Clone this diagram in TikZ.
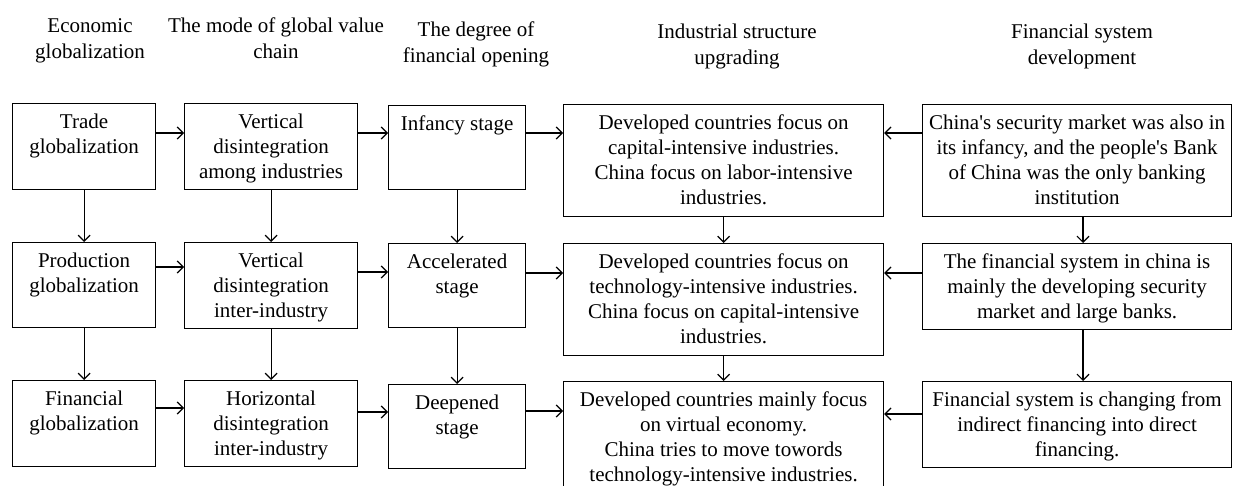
\documentclass[tikz,border=0pt]{standalone}
\usepackage{fontspec}
\setmainfont{Liberation Serif}[Ligatures=TeXOff]
\usetikzlibrary{arrows.meta}
\newcommand\bxt[3]{\parbox[c][#2][t]{#1}{\centering\rule{0pt}{25pt}#3}}
\newcommand\hdt[2]{\parbox[t]{#1}{\centering\rule{0pt}{24pt}#2}}
\tikzset{
  box/.style={draw, line width=1.2pt, inner sep=0pt, anchor=north west, font=\fontsize{21}{25}\selectfont},
  hdr/.style={inner sep=0pt, anchor=north, font=\fontsize{21}{26}\selectfont},
  arr/.style={line width=1.2pt, -{Straight Barb[length=6pt,width=12pt,line width=1.2pt]}}
}
\begin{document}
\begin{tikzpicture}[x=1pt,y=-1pt]
\useasboundingbox (0,0) rectangle (1233,486);
\fill[white] (0,0) rectangle (1233,486);
% headers
\node[hdr] (H1) at (90,8) {\hdt{200pt}{Economic\\globalization}};
\node[hdr] (H2) at (276,8) {\hdt{260pt}{The mode of global value\\chain}};
\node[hdr] (H3) at (476,12) {\hdt{200pt}{The degree of\\financial opening}};
\node[hdr] (H4) at (737,14) {\hdt{260pt}{Industrial structure\\upgrading}};
\node[hdr] (H5) at (1082,14) {\hdt{260pt}{Financial system\\development}};
% column A
\node[box] (A1) at (12,103) {\bxt{143pt}{86pt}{Trade\\globalization}};
\node[box] (A2) at (12,242) {\bxt{143pt}{85pt}{Production\\globalization}};
\node[box] (A3) at (12,380) {\bxt{143pt}{86pt}{Financial\\globalization}};
% column B
\node[box] (B1) at (184,103) {\bxt{173pt}{86pt}{Vertical\\disintegration\\among industries}};
\node[box] (B2) at (184,242) {\bxt{173pt}{86pt}{Vertical\\disintegration\\inter-industry}};
\node[box] (B3) at (184,380) {\bxt{173pt}{86pt}{Horizontal\\disintegration\\inter-industry}};
% column C
\node[box] (C1) at (388,105) {\bxt{137pt}{84pt}{Infancy stage}};
\node[box] (C2) at (388,243) {\bxt{137pt}{84pt}{Accelerated\\stage}};
\node[box] (C3) at (388,384) {\bxt{137pt}{84pt}{Deepened\\stage}};
% column D
\node[box] (D1) at (563,104) {\bxt{320pt}{112pt}{Developed countries focus on\\capital-intensive industries.\\China focus on labor-intensive\\industries.}};
\node[box] (D2) at (563,243) {\bxt{320pt}{112pt}{Developed countries focus on\\technology-intensive industries.\\China focus on capital-intensive\\industries.}};
\node[box] (D3) at (563,381) {\bxt{320pt}{125pt}{Developed countries mainly focus\\on virtual economy.\\China tries to move towords\\technology-intensive industries.}};
% column E
\node[box] (E1) at (922,104) {\bxt{309pt}{112pt}{China's security market was also in\\its infancy, and the people's Bank\\of China was the only banking\\institution}};
\node[box] (E2) at (922,243) {\bxt{309pt}{86pt}{The financial system in china is\\mainly the developing security\\market and large banks.}};
\node[box] (E3) at (922,381) {\bxt{309pt}{86pt}{Financial system is changing from\\indirect financing into direct\\financing.}};
% horizontal arrows row 1
\draw[arr] (A1.east |- 0,133) -- (B1.west |- 0,133);
\draw[arr] (B1.east |- 0,133) -- (C1.west |- 0,133);
\draw[arr] (C1.east |- 0,133) -- (D1.west |- 0,133);
\draw[arr] (E1.west |- 0,133) -- (D1.east |- 0,133);
% row 2
\draw[arr] (A2.east |- 0,267) -- (B2.west |- 0,267);
\draw[arr] (B2.east |- 0,272) -- (C2.west |- 0,272);
\draw[arr] (C2.east |- 0,273) -- (D2.west |- 0,273);
\draw[arr] (E2.west |- 0,273) -- (D2.east |- 0,273);
% row 3
\draw[arr] (A3.east |- 0,408) -- (B3.west |- 0,408);
\draw[arr] (B3.east |- 0,412) -- (C3.west |- 0,412);
\draw[arr] (C3.east |- 0,411) -- (D3.west |- 0,411);
\draw[arr] (E3.west |- 0,414) -- (D3.east |- 0,414);
% vertical arrows
\draw[arr] (A1.south) -- (A2.north);
\draw[arr] (A2.south) -- (A3.north);
\draw[arr] (B1.south) -- (B2.north);
\draw[arr] (B2.south) -- (B3.north);
\draw[arr] (C1.south) -- (C2.north);
\draw[arr] (C2.south) -- (C3.north);
\draw[arr] (D1.south) -- (D2.north);
\draw[arr] (D2.south) -- (D3.north);
\draw[arr] (E1.south -| 1083,0) -- (E2.north -| 1083,0);
\draw[arr] (E2.south -| 1083,0) -- (E3.north -| 1083,0);
\end{tikzpicture}
\end{document}
